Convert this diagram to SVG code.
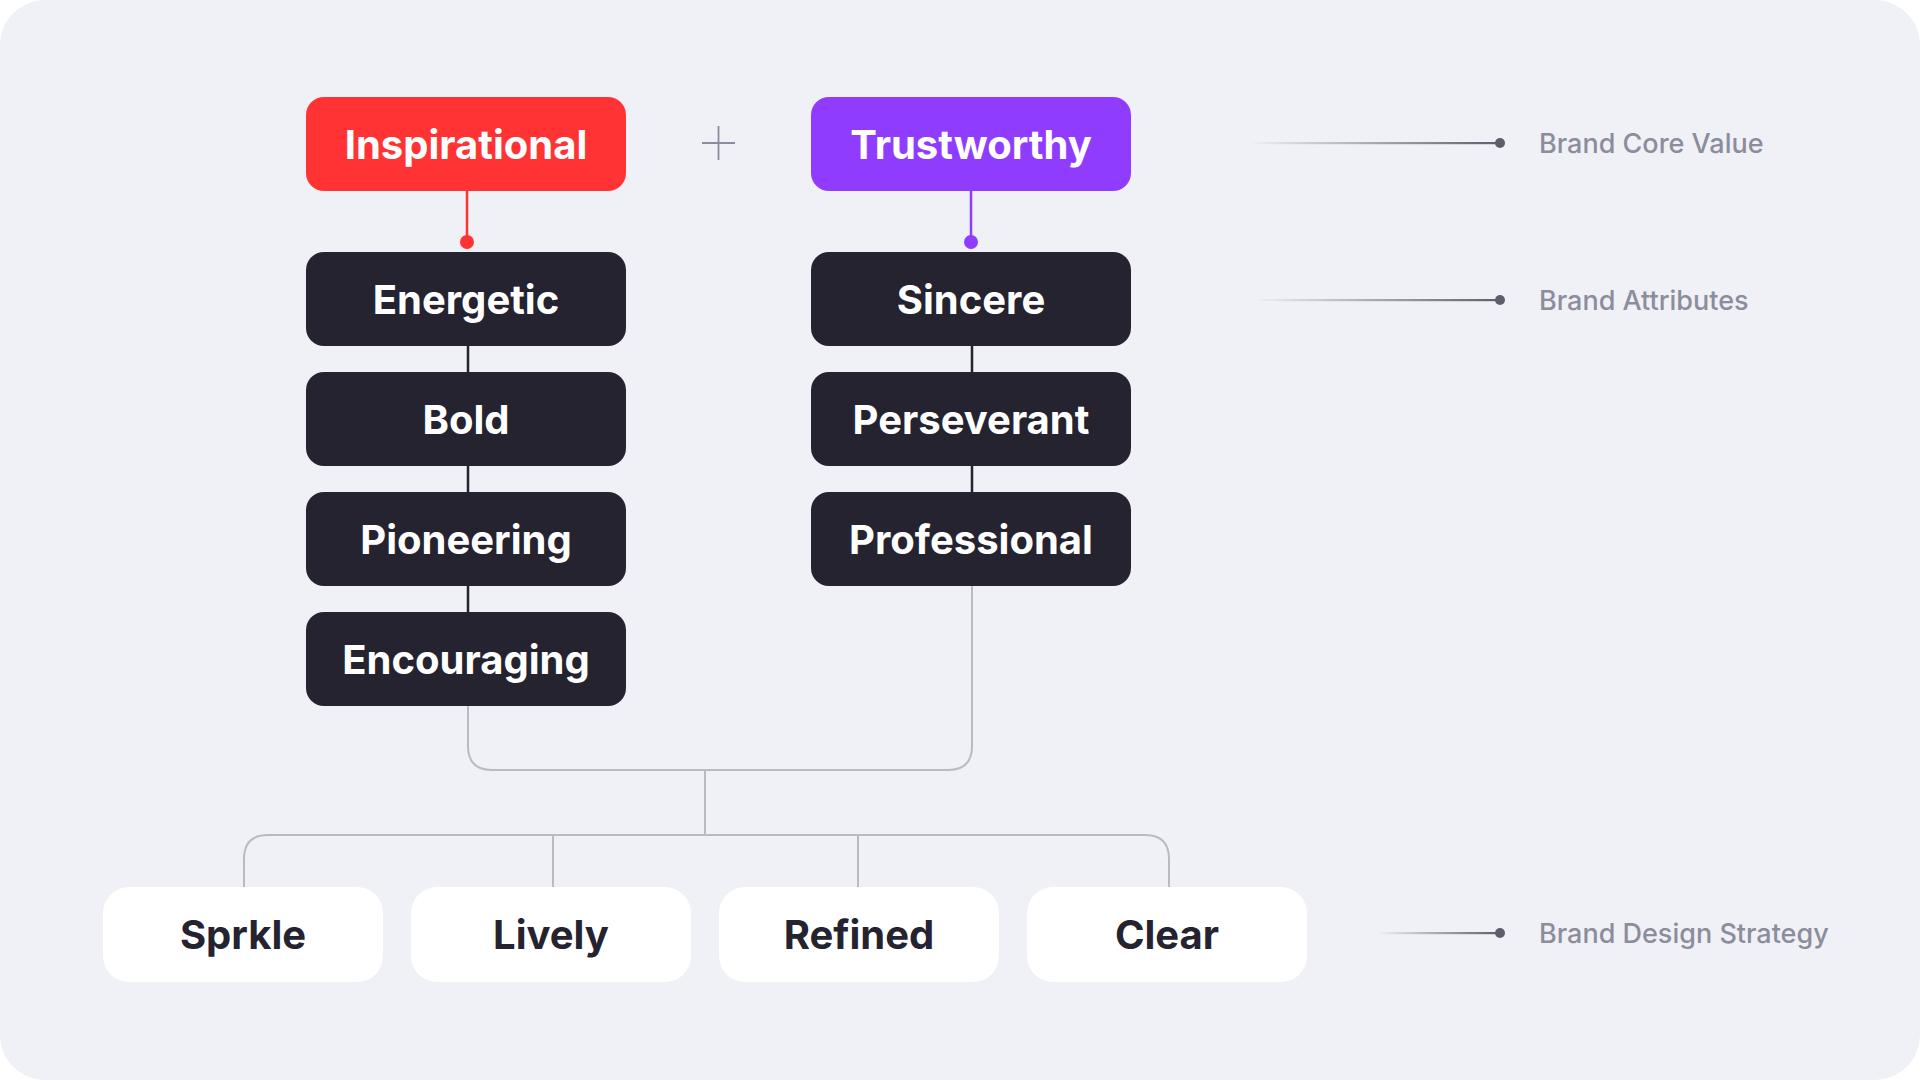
<svg xmlns="http://www.w3.org/2000/svg" width="1920" height="1080" viewBox="0 0 1920 1080">
<defs>
<linearGradient id="fade" x1="0" y1="0" x2="1" y2="0">
<stop offset="0" stop-color="#5c5e6b" stop-opacity="0"/>
<stop offset="1" stop-color="#5c5e6b" stop-opacity="1"/>
</linearGradient>
<style>
.dark{fill:#24232f}
.white{fill:#ffffff}
.t{font-family:Inter,"Liberation Sans",sans-serif;font-weight:700;font-size:40px;text-anchor:middle}
.tw{fill:#ffffff}
.td{fill:#24232f}
.lab{font-family:Inter,"Liberation Sans",sans-serif;font-weight:500;font-size:27px;fill:#8b8d9c}
.gray{fill:none;stroke:#b8bac6;stroke-width:2}
.dk{fill:none;stroke:#24232f;stroke-width:2.5}
.ld{fill:url(#fade)}
.dot{fill:#5c5e6b}
</style>
</defs>
<rect x="0" y="0" width="1920" height="1080" fill="#ffffff"/>
<rect x="0" y="0" width="1920" height="1080" rx="45" fill="#f0f1f6"/>

<g id="connectors">
<line x1="467" y1="191" x2="467" y2="242" stroke="#ff3333" stroke-width="2.5"/>
<circle cx="467" cy="242" r="7" fill="#ff3333"/>
<line x1="971" y1="191" x2="971" y2="242" stroke="#903cff" stroke-width="2.5"/>
<circle cx="971" cy="242" r="7" fill="#903cff"/>
<path class="dk" d="M468 346 V372 M468 466 V492 M468 586 V612 M972 346 V372 M972 466 V492"/>
<path class="gray" d="M468 706 V746 Q468 770 492 770 H948 Q972 770 972 746 V586"/>
<path class="gray" d="M705 770 V835"/>
<path class="gray" d="M244 887 V859 Q244 835 268 835 H1145 Q1169 835 1169 859 V887"/>
<path class="gray" d="M553 835 V887 M858 835 V887"/>
<path d="M702 143 H735 M718.5 126 V160" stroke="#8b8d9c" stroke-width="1.8" fill="none"/>
</g>

<g id="legend">
<rect class="ld" x="1250" y="142" width="250" height="2.2"/>
<circle class="dot" cx="1500" cy="143" r="5"/>
<text class="lab" x="1539" y="153">Brand Core Value</text>
<rect class="ld" x="1255" y="299" width="245" height="2.2"/>
<circle class="dot" cx="1500" cy="300" r="5"/>
<text class="lab" x="1539" y="309.5">Brand Attributes</text>
<rect class="ld" x="1377" y="932" width="123" height="2.2"/>
<circle class="dot" cx="1500" cy="933" r="5"/>
<text class="lab" x="1539" y="942.5">Brand Design Strategy</text>
</g>

<g id="inspirational">
<rect x="306" y="97" width="320" height="94" rx="18" fill="#ff3333"/>
<text class="t tw" x="466" y="158.5">Inspirational</text>
</g>
<g id="trustworthy">
<rect x="811" y="97" width="320" height="94" rx="18" fill="#903cff"/>
<text class="t tw" x="971" y="158.5">Trustworthy</text>
</g>

<g id="energetic">
<rect class="dark" x="306" y="252" width="320" height="94" rx="18"/>
<text class="t tw" x="466" y="313.5">Energetic</text>
</g>
<g id="bold">
<rect class="dark" x="306" y="372" width="320" height="94" rx="18"/>
<text class="t tw" x="466" y="433.5">Bold</text>
</g>
<g id="pioneering">
<rect class="dark" x="306" y="492" width="320" height="94" rx="18"/>
<text class="t tw" x="466" y="553.5">Pioneering</text>
</g>
<g id="encouraging">
<rect class="dark" x="306" y="612" width="320" height="94" rx="18"/>
<text class="t tw" x="466" y="673.5">Encouraging</text>
</g>

<g id="sincere">
<rect class="dark" x="811" y="252" width="320" height="94" rx="18"/>
<text class="t tw" x="971" y="313.5">Sincere</text>
</g>
<g id="perseverant">
<rect class="dark" x="811" y="372" width="320" height="94" rx="18"/>
<text class="t tw" x="971" y="433.5">Perseverant</text>
</g>
<g id="professional">
<rect class="dark" x="811" y="492" width="320" height="94" rx="18"/>
<text class="t tw" x="971" y="553.5">Professional</text>
</g>

<g id="sprkle">
<rect class="white" x="103" y="887" width="280" height="95" rx="26"/>
<text class="t td" x="243" y="949">Sprkle</text>
</g>
<g id="lively">
<rect class="white" x="411" y="887" width="280" height="95" rx="26"/>
<text class="t td" x="551" y="949">Lively</text>
</g>
<g id="refined">
<rect class="white" x="719" y="887" width="280" height="95" rx="26"/>
<text class="t td" x="859" y="949">Refined</text>
</g>
<g id="clear">
<rect class="white" x="1027" y="887" width="280" height="95" rx="26"/>
<text class="t td" x="1167" y="949">Clear</text>
</g>
</svg>
